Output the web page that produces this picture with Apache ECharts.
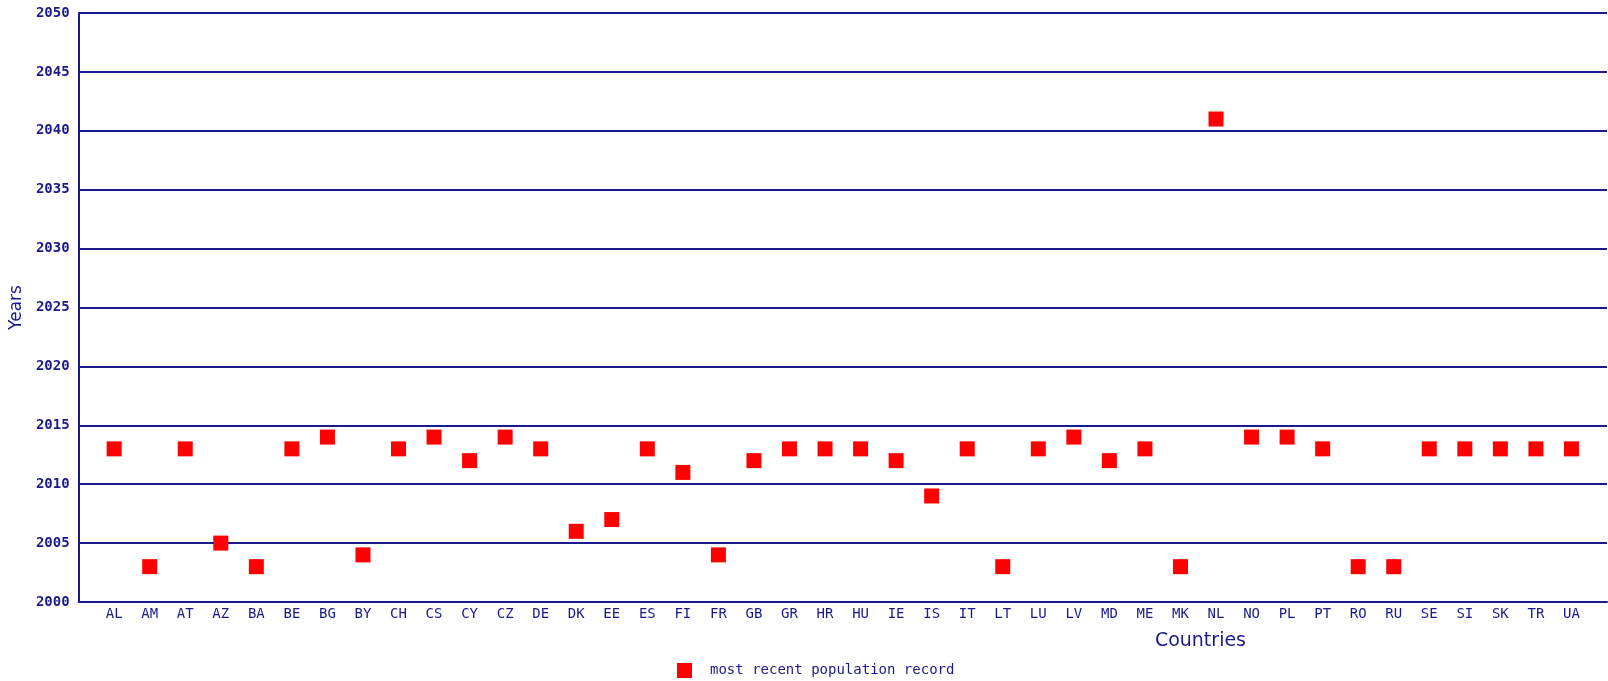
<!DOCTYPE html>
<html>
<head>
<meta charset="utf-8">
<script src="https://cdn.jsdelivr.net/npm/echarts@6/dist/echarts.min.js"></script>
<style>
html,body{margin:0;padding:0;background:#fff;}
#chart{width:1608px;height:681px;}
</style>
</head>
<body>
<div id="chart"></div>
<script>
const countries = ['AL','AM','AT','AZ','BA','BE','BG','BY','CH','CS','CY','CZ','DE','DK','EE','ES','FI','FR','GB','GR','HR','HU','IE','IS','IT','LT','LU','LV','MD','ME','MK','NL','NO','PL','PT','RO','RU','SE','SI','SK','TR','UA'];
const recentYear = [2013,2003,2013,2005,2003,2013,2014,2004,2013,2014,2012,2014,2013,2006,2007,2013,2011,2004,2012,2013,2013,2013,2012,2009,2013,2003,2013,2014,2012,2013,2003,2041,2014,2014,2013,2003,2003,2013,2013,2013,2013,2013];
const seriesName = 'most recent population record';

const navy = '#1a1a8a';
const chart = echarts.init(document.getElementById('chart'));
chart.setOption({
  animation: false,
  backgroundColor: '#fff',
  grid: {left: 77, right: 1, top: 13, bottom: 79, containLabel: false},
  legend: {
    top: 658, left: 672,
    itemWidth: 15, itemHeight: 15, itemGap: 10,
    icon: 'rect',
    textStyle: {color: navy, fontFamily: 'DejaVu Sans Mono', fontSize: 14, padding: [0, 0, 0, 13]},
    data: [seriesName]
  },
  xAxis: {
    type: 'value', min: 0, max: countries.length + 1, interval: 1,
    name: 'Countries', nameLocation: 'end',
    nameGap: 0,
    nameTextStyle: {color: navy, fontFamily: 'DejaVu Sans', fontSize: 19, align: 'right', verticalAlign: 'top', padding: [30, 361, 0, 0]},
    axisLine: {show: true, lineStyle: {color: navy, width: 2}},
    axisTick: {show: false},
    splitLine: {show: false},
    axisLabel: {
      color: navy, fontFamily: 'DejaVu Sans Mono', fontSize: 14, margin: 5,
      showMinLabel: false, showMaxLabel: false,
      formatter: v => (v >= 1 && v <= countries.length) ? countries[v - 1] : ''
    }
  },
  yAxis: {
    type: 'value', min: 2000, max: 2050, interval: 5,
    name: 'Years', nameLocation: 'middle', nameGap: 58,
    nameTextStyle: {color: navy, fontFamily: 'DejaVu Sans', fontSize: 17, verticalAlign: 'middle'},
    axisLine: {show: true, lineStyle: {color: navy, width: 2}},
    axisTick: {show: false},
    splitLine: {show: true, lineStyle: {color: navy, width: 2}},
    axisLabel: {color: navy, fontFamily: 'DejaVu Sans Mono', fontWeight: 'bold', fontSize: 14, margin: 9,
      formatter: v => String(v)}
  },
  series: [{
    name: seriesName,
    type: 'scatter',
    symbol: 'rect',
    symbolSize: 15,
    itemStyle: {color: '#ff0000', opacity: 1},
    emphasis: {disabled: true},
    data: recentYear.map((v, i) => [i + 1, v])
  }]
});
</script>
</body>
</html>
